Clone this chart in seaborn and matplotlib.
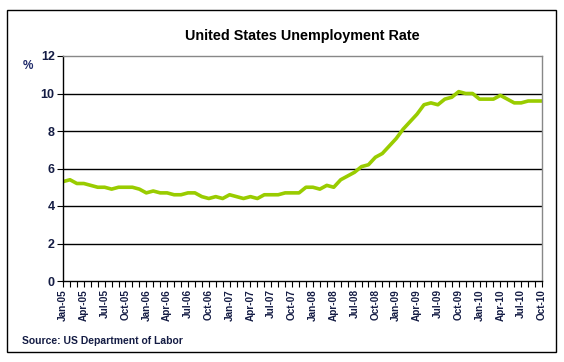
import matplotlib
matplotlib.use("Agg")
import matplotlib.pyplot as plt
import seaborn as sns
import pandas as pd
from matplotlib.patches import Rectangle

months = ["Jan", "Feb", "Mar", "Apr", "May", "Jun", "Jul", "Aug", "Sep", "Oct", "Nov", "Dec"]
years = ["05", "06", "07", "08", "09", "10"]
rate_2005 = [5.3, 5.4, 5.2, 5.2, 5.1, 5.0, 5.0, 4.9, 5.0, 5.0, 5.0, 4.9]
rate_2006 = [4.7, 4.8, 4.7, 4.7, 4.6, 4.6, 4.7, 4.7, 4.5, 4.4, 4.5, 4.4]
rate_2007 = [4.6, 4.5, 4.4, 4.5, 4.4, 4.6, 4.6, 4.6, 4.7, 4.7, 4.7, 5.0]
rate_2008 = [5.0, 4.9, 5.1, 5.0, 5.4, 5.6, 5.8, 6.1, 6.2, 6.6, 6.8, 7.2]
rate_2009 = [7.6, 8.1, 8.5, 8.9, 9.4, 9.5, 9.4, 9.7, 9.8, 10.1, 10.0, 10.0]
rate_2010 = [9.7, 9.7, 9.7, 9.9, 9.7, 9.5, 9.5, 9.6, 9.6, 9.6]

rates = rate_2005 + rate_2006 + rate_2007 + rate_2008 + rate_2009 + rate_2010
labels = [f"{m}-{y}" for y in years for m in months][:len(rates)]

df = pd.DataFrame({"idx": range(len(rates)), "rate": rates, "label": labels})

sns.set_theme(style="white")
plt.rcParams["font.family"] = ["Liberation Sans", "DejaVu Sans"]

navy = "#141C44"

fig = plt.figure(figsize=(5.64, 3.62), dpi=100)
ax = fig.add_axes([63 / 564, 1 - 281 / 362, (542 - 63) / 564, (281 - 56) / 362])

sns.lineplot(data=df, x="idx", y="rate", ax=ax, color="#99CC00", linewidth=2.6)

ax.set_xlim(0, len(rates) - 1)
ax.set_ylim(0, 12)
ax.set_yticks(range(0, 13, 2))
ax.set_yticklabels([str(v) for v in range(0, 13, 2)], fontsize=9, fontweight="bold", color=navy)
for y in range(2, 12, 2):
    ax.axhline(y, color="black", linewidth=1.0, zorder=0)

ax.set_xticks(df["idx"][::3])
ax.set_xticklabels(df["label"][::3], rotation=90, fontsize=7.2, fontweight="bold", color=navy)
ax.set_xticks(df["idx"], minor=True)
ax.tick_params(axis="x", which="both", direction="out", length=4, width=0.8, color="black", bottom=True, pad=2)
ax.tick_params(axis="y", which="major", direction="out", length=4, width=0.8, color="black", left=True, pad=2)
ax.set_xlabel("")
ax.set_ylabel("")

for side in ["left", "bottom"]:
    ax.spines[side].set_color("black")
    ax.spines[side].set_linewidth(1.0)
for side in ["top", "right"]:
    ax.spines[side].set_color("#888888")
    ax.spines[side].set_linewidth(1.0)

fig.text(302 / 564, 1 - 36 / 362, "United States Unemployment Rate", ha="center", va="center",
         fontsize=10.4, fontweight="bold", color="black")
fig.text(28 / 564, 1 - 66 / 362, "%", ha="center", va="center", fontsize=8.5, fontweight="bold", color="#1F2A6A")
fig.text(22 / 564, 1 - 341 / 362, "Source: US Department of Labor", ha="left", va="center",
         fontsize=7.5, fontweight="bold", color=navy)

fig.patches.append(Rectangle((7 / 564, 1 - 352 / 362), (556 - 7) / 564, (352 - 10) / 362,
                             transform=fig.transFigure, fill=False, edgecolor="black", linewidth=1.0))

fig.savefig("out.png", dpi=100)
